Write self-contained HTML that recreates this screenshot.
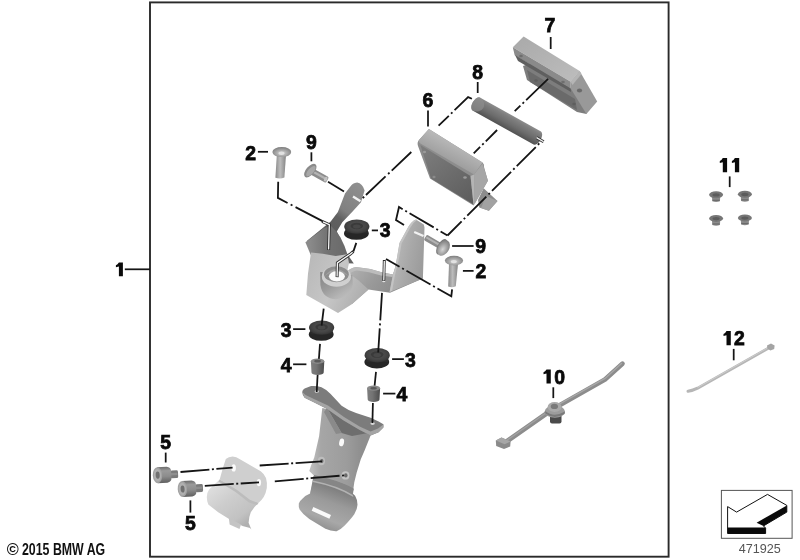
<!DOCTYPE html>
<html>
<head>
<meta charset="utf-8">
<title>Parts diagram 471925</title>
<style>
html,body{margin:0;padding:0;background:#fff;}
body{width:800px;height:560px;overflow:hidden;font-family:"Liberation Sans",sans-serif;}
svg{display:block;position:absolute;left:0;top:0;}
.lbl{font-family:"Liberation Sans",sans-serif;font-weight:bold;font-size:19.4px;fill:#0a0a0a;stroke:#0a0a0a;stroke-width:0.75;text-anchor:middle;}
.ld{stroke:#151515;stroke-width:1.75;fill:none;stroke-linecap:butt;}
.dd{stroke:#151515;stroke-width:1.8;fill:none;stroke-dasharray:27 3 2 3;}
</style>
</head>
<body>
<svg width="800" height="560" viewBox="0 0 800 560">
<defs>

<linearGradient id="g7top" x1="0" y1="0" x2="1" y2="1"><stop offset="0" stop-color="#a9a9a9"/><stop offset="1" stop-color="#bdbdbd"/></linearGradient>
<linearGradient id="g8" gradientUnits="userSpaceOnUse" x1="510.4" y1="114.4" x2="503.1" y2="127.6"><stop offset="0" stop-color="#8d8d8d"/><stop offset="0.2" stop-color="#7e7e7e"/><stop offset="0.6" stop-color="#6c6c6c"/><stop offset="1" stop-color="#525252"/></linearGradient>
<linearGradient id="g6f" gradientUnits="userSpaceOnUse" x1="425" y1="150" x2="470" y2="205"><stop offset="0" stop-color="#7c7c7c"/><stop offset="1" stop-color="#5c5c5c"/></linearGradient>
<linearGradient id="g6t" gradientUnits="userSpaceOnUse" x1="450" y1="140" x2="440" y2="160"><stop offset="0" stop-color="#b9b9b9"/><stop offset="1" stop-color="#9a9a9a"/></linearGradient>

<linearGradient id="gArmL" gradientUnits="userSpaceOnUse" x1="358" y1="186" x2="322" y2="236"><stop offset="0" stop-color="#8e8e8e"/><stop offset="0.45" stop-color="#808080"/><stop offset="0.6" stop-color="#606060"/><stop offset="1" stop-color="#5a5a5a"/></linearGradient>
<linearGradient id="gBack" gradientUnits="userSpaceOnUse" x1="310" y1="245" x2="346" y2="245"><stop offset="0" stop-color="#8a8a8a"/><stop offset="0.5" stop-color="#727272"/><stop offset="1" stop-color="#6a6a6a"/></linearGradient>
<linearGradient id="gFront" gradientUnits="userSpaceOnUse" x1="306" y1="270" x2="370" y2="300"><stop offset="0" stop-color="#bababa"/><stop offset="0.45" stop-color="#c6c6c6"/><stop offset="1" stop-color="#a8a8a8"/></linearGradient>
<radialGradient id="gDish" gradientUnits="userSpaceOnUse" cx="336.5" cy="276" r="17" fx="336.5" fy="270"><stop offset="0" stop-color="#8c8c8c"/><stop offset="0.45" stop-color="#a2a2a2"/><stop offset="0.8" stop-color="#cfcfcf"/><stop offset="1" stop-color="#c2c2c2"/></radialGradient>
<linearGradient id="gFloor" gradientUnits="userSpaceOnUse" x1="355" y1="266" x2="392" y2="292"><stop offset="0" stop-color="#b0b0b0"/><stop offset="0.5" stop-color="#9a9a9a"/><stop offset="1" stop-color="#8c8c8c"/></linearGradient>
<linearGradient id="gArmR" gradientUnits="userSpaceOnUse" x1="396" y1="250" x2="424" y2="256"><stop offset="0" stop-color="#b6b6b6"/><stop offset="0.5" stop-color="#a8a8a8"/><stop offset="1" stop-color="#9c9c9c"/></linearGradient>

<linearGradient id="gShV" x1="0" y1="0" x2="1" y2="0"><stop offset="0" stop-color="#8a8a8a"/><stop offset="0.45" stop-color="#bdbdbd"/><stop offset="1" stop-color="#858585"/></linearGradient>
<radialGradient id="gHead" cx="0.5" cy="0.6" r="0.6"><stop offset="0" stop-color="#d6d6d6"/><stop offset="0.5" stop-color="#a8a8a8"/><stop offset="1" stop-color="#7c7c7c"/></radialGradient>
<radialGradient id="gGromT" cx="0.5" cy="0.45" r="0.55"><stop offset="0" stop-color="#3c3c3c"/><stop offset="0.35" stop-color="#4e4e4e"/><stop offset="0.7" stop-color="#444"/><stop offset="1" stop-color="#353535"/></radialGradient>
<linearGradient id="gSp" x1="0" y1="0" x2="1" y2="0"><stop offset="0" stop-color="#7e7e7e"/><stop offset="0.4" stop-color="#747474"/><stop offset="1" stop-color="#4c4c4c"/></linearGradient>

<linearGradient id="gLB" gradientUnits="userSpaceOnUse" x1="312" y1="450" x2="362" y2="450"><stop offset="0" stop-color="#bcbcbc"/><stop offset="0.18" stop-color="#a6a6a6"/><stop offset="0.7" stop-color="#9c9c9c"/><stop offset="1" stop-color="#8e8e8e"/></linearGradient>
<linearGradient id="gLBc" gradientUnits="userSpaceOnUse" x1="335" y1="488" x2="320" y2="528"><stop offset="0" stop-color="#7e7e7e"/><stop offset="0.35" stop-color="#9a9a9a"/><stop offset="0.75" stop-color="#a8a8a8"/><stop offset="1" stop-color="#909090"/></linearGradient>

<linearGradient id="gS5" x1="0" y1="0" x2="0" y2="1"><stop offset="0" stop-color="#6c6c6c"/><stop offset="0.25" stop-color="#9a9a9a"/><stop offset="0.6" stop-color="#8c8c8c"/><stop offset="1" stop-color="#606060"/></linearGradient>
<linearGradient id="gClampC" gradientUnits="userSpaceOnUse" x1="215" y1="485" x2="245" y2="525"><stop offset="0" stop-color="#dedede"/><stop offset="0.4" stop-color="#cdcdcd"/><stop offset="0.8" stop-color="#c2c2c2"/><stop offset="1" stop-color="#b0b0b0"/></linearGradient>
<linearGradient id="gWall" gradientUnits="userSpaceOnUse" x1="326" y1="272" x2="344" y2="300"><stop offset="0" stop-color="#868686"/><stop offset="0.45" stop-color="#9c9c9c"/><stop offset="0.8" stop-color="#b4b4b4"/><stop offset="1" stop-color="#bebebe"/></linearGradient>
<filter id="soft" x="-5%" y="-5%" width="110%" height="110%" filterUnits="userSpaceOnUse" color-interpolation-filters="sRGB"><feGaussianBlur stdDeviation="0.55"/></filter>
<filter id="softT" x="0" y="0" width="800" height="560" filterUnits="userSpaceOnUse" color-interpolation-filters="sRGB"><feGaussianBlur stdDeviation="0.35"/></filter>
<!--DEFS-->
</defs>
<rect x="0" y="0" width="800" height="560" fill="#ffffff"/>
<!-- frame -->
<rect x="150" y="2.4" width="518.6" height="554.3" fill="none" stroke="#2a2a2a" stroke-width="1.9"/>


<g id="allparts" filter="url(#soft)">
<g id="p7">
<!-- lower body -->
<polygon points="523,66 531,63 590,100 586.5,114 577,112 527,80" fill="#7d7d7d"/>
<polygon points="527,70 575,99 577,110 530,82" fill="#6a6a6a"/>
<!-- top face -->
<polygon points="512.8,47.3 523.6,36.5 579.6,70.9 570.7,81.7" fill="url(#g7top)"/>
<!-- front face of top slab -->
<polygon points="512.8,47.3 570.7,81.7 570.7,88.6 514.7,55.2" fill="#8a8a8a"/>
<polygon points="515,55 570.7,88.6 571,92 518,61" fill="#5f5f5f"/>
<!-- end face -->
<polygon points="579.6,70.9 597.2,101.4 586.4,114 570.7,88.6 570.7,81.7" fill="#999999"/>
<polygon points="570.7,81.7 579.6,70.9 581.5,74 572.5,85" fill="#b5b5b5"/>
<ellipse cx="579.5" cy="90.5" rx="2.6" ry="2" fill="#6a6a6a"/>
<ellipse cx="521" cy="56" rx="1.8" ry="1.3" fill="#6e6e6e"/>
<ellipse cx="563" cy="82" rx="1.8" ry="1.3" fill="#6e6e6e"/>
<ellipse cx="574" cy="104" rx="1.8" ry="1.3" fill="#5e5e5e"/>
<ellipse cx="536" cy="80.5" rx="1.8" ry="1.3" fill="#5e5e5e"/>
</g>
<g id="p8">
<path d="M479.9 97.4 L541.0 131.4 A4.2 7.6 29.1 0 1 533.6 144.6 L472.5 110.6 A4.2 7.6 29.1 0 1 479.9 97.4Z" fill="url(#g8)"/>
<path d="M479.9 97.4 A4.2 7.6 29.1 0 0 472.5 110.6 A9 7.6 29.1 0 0 479.9 97.4Z" fill="#8e8e8e" opacity="0.7"/>
<path d="M536.6 137.6L543.6 141.8" stroke="#333" stroke-width="3" fill="none"/>
<path d="M536.6 137.6L543.6 141.8" stroke="#f4f4f4" stroke-width="1.3" fill="none"/>
</g>
<g id="p6">
<!-- tab -->
<polygon points="483.6,188.2 497.5,201 488.9,210.7 479.3,207.5 478,200" fill="#8c8c8c"/>
<polygon points="486,196 497.5,201 488.9,210.7 481,208" fill="#a2a2a2"/>
<!-- outer -->
<path d="M428.9 128.9 L482.5 162.5 Q484.5 164 484 167 L487.9 180.7 L473.5 205.4 L430 178.6 L418 146 Q416.8 142.5 419 140 Z" fill="#8d8d8d"/>
<!-- front face -->
<polygon points="420.4,145 470.5,176 473.5,204.5 431,178.5" fill="url(#g6f)"/>
<!-- top face -->
<path d="M428.9 128.9 L482.5 162.5 L474 174.5 L420.4 143.5 Q417.5 141.5 419.5 139.5Z" fill="url(#g6t)"/>
<!-- right side -->
<polygon points="474,174.5 482.5,163.5 487.9,180.7 474.4,204.5" fill="#a6a6a6"/>
<polygon points="470.5,176 474,174.5 474.4,204.5 473.5,204.5" fill="#b4b4b4"/>
<ellipse cx="424.5" cy="152" rx="1.6" ry="1.2" fill="#9a9a9a"/>
<ellipse cx="465" cy="177.5" rx="1.8" ry="1.3" fill="#9a9a9a"/>
<ellipse cx="434" cy="177" rx="1.6" ry="1.2" fill="#8a8a8a"/>
</g>

<g id="bracket">
<!-- left arm -->
<path d="M350 187.1 Q352.5 183 357.1 182.6 Q362.5 183.5 364.6 190.5 L361 202.3 L352.1 212.1 L342.3 222.3 L336.8 231.6 L341 240 L312 246 L307.1 240.7 L330.7 221.4 L337.9 212.1 L345 193.6 Z" fill="url(#gArmL)"/>
<!-- back plate -->
<path d="M305.4 242.3 L324.1 228 L331 226 Q337 231.5 340.5 237.5 Q345 246 347.3 253.9 L347 260 L312 258 Z" fill="url(#gBack)"/>
<!-- dark wedge -->
<polygon points="348.6,256 353.8,263.4 339.6,263 340.5,258.5" fill="#626262"/>
<!-- floor -->
<path d="M345.6 273.2 Q350 268 356 267 L370.3 268.9 L382.5 272.5 L393 274.4 L397 262 L423 262 L422.8 278.5 L390 292.8 L368.5 289.5 L352 304 L340 290 Z" fill="url(#gFloor)"/>
<path d="M345.6 273.2 Q350 268 356 267 L370.3 268.9 L382.5 272.5 L393 274.4 L392.6 277 L381 275.4 L369 272.2 L357 270.4 Q352 271 347.6 275.4Z" fill="#bcbcbc"/>
<!-- right arm -->
<path d="M389.6 292 L393 274.4 L395 268 L396.8 258.9 L399.5 242.9 L408.4 226.8 Q411.5 221 416 219.4 L423.8 224.6 L424.5 227.5 L422.9 278.5 Z" fill="url(#gArmR)"/>
<path d="M389.6 292 L393 274.4 L395 268 L396.8 258.9 L399.5 242.9 L408.4 226.8 Q411.5 221 416 219.4 L417 220 Q413 222.5 410.4 227.4 L401.6 243.4 L398.8 259.4 L395 275 L392 291Z" fill="#c4c4c4"/>
<!-- front face / left wall -->
<path d="M311 252.6 Q322 253.4 335.7 255.9 L347.3 254.2 L349 262.9 L347 272 L358 280 L368.5 289.5 L351.8 304.3 L338 313 L306.3 295 L308 273.6 Z" fill="url(#gFront)"/>
<!-- boss outer wall -->
<path d="M320.2 272 L320.4 285 Q322.4 298.9 336.4 299.2 Q350 297.4 352.8 284.5 L352.4 275 Z" fill="url(#gWall)"/>
<!-- ring -->
<ellipse cx="336.4" cy="276.4" rx="14.6" ry="10.4" fill="#d0d0d0"/>
<ellipse cx="336.4" cy="274.2" rx="12.4" ry="8" fill="#8e8e8e"/>
<path d="M324.6 276 Q336 262 348.4 276 Q336 268 324.6 276Z" fill="#a2a2a2"/>
<!-- hole -->
<ellipse cx="336.9" cy="276.3" rx="8" ry="5.1" fill="#fbfbfb"/>
<!-- hole small on floor -->
<ellipse cx="383.8" cy="281" rx="1.6" ry="1.2" fill="#e6e6e6"/>
<!-- slot notches -->
<path d="M353 196.6L360.5 201.2" stroke="#f2f2f2" stroke-width="2.4" fill="none"/>
<path d="M414.2 232L423.5 236" stroke="#f2f2f2" stroke-width="2.4" fill="none"/>
</g>

<g id="screws">
<!-- screw 2 left -->
<path d="M276.8 155 L286 155 L284.4 177.6 Q280 179.4 275.4 177.8Z" fill="url(#gShV)"/>
<ellipse cx="281.8" cy="152.1" rx="9.4" ry="5" fill="url(#gHead)"/>
<ellipse cx="281.5" cy="153.2" rx="3" ry="1.7" fill="#e2e2e2"/>
<!-- screw 2 right -->
<path d="M449 264 L458 264 L455.8 286.3 Q452 288 448.2 286.5Z" fill="url(#gShV)"/>
<ellipse cx="454" cy="260.6" rx="9.1" ry="4.9" fill="url(#gHead)"/>
<ellipse cx="453.8" cy="261.6" rx="3" ry="1.7" fill="#e2e2e2"/>
<!-- screw 9 left -->
<g transform="translate(310.3,170.6) rotate(29)">
<rect x="0" y="-3.3" width="19.6" height="6.6" rx="1.6" fill="#8c8c8c"/>
<rect x="2" y="-1.4" width="16.5" height="2.2" fill="#b4b4b4"/>
<ellipse cx="17.6" cy="0" rx="1.6" ry="2.6" fill="#c4c4c4"/>
<ellipse cx="0" cy="0" rx="4.2" ry="8.2" transform="rotate(12)" fill="#8a8a8a"/>
<ellipse cx="0.8" cy="0" rx="2.8" ry="6.4" transform="rotate(12)" fill="#a8a8a8"/>
</g>
<!-- screw 9 right -->
<g transform="translate(443,247.6) rotate(30)">
<rect x="-20.5" y="-3.1" width="19" height="6.2" rx="1.4" fill="#8c8c8c"/>
<rect x="-19.5" y="-1.6" width="16" height="2.2" fill="#b2b2b2"/>
<ellipse cx="-1.6" cy="0" rx="4" ry="8.6" fill="#7c7c7c"/>
<ellipse cx="0.6" cy="0" rx="5.6" ry="8.4" fill="url(#gHead)"/>
</g>
</g>
<g id="grommets">
<g>
<ellipse cx="356.40000000000003" cy="233.4" rx="12.4" ry="6.4" fill="#262626"/>
<rect x="345.7" y="226.6" width="22.2" height="6.8" fill="#2c2c2c"/>
<ellipse cx="356.8" cy="226.6" rx="12.6" ry="7.2" fill="url(#gGromT)"/>
<ellipse cx="356.8" cy="226.0" rx="6.3" ry="3.24" fill="#3a3a3a"/>
<ellipse cx="356.8" cy="226.4" rx="3.78" ry="2.0160000000000005" fill="#484848"/>
</g><g>
<ellipse cx="321.20000000000005" cy="334.40000000000003" rx="12.4" ry="6.4" fill="#262626"/>
<rect x="310.5" y="327.6" width="22.2" height="6.8" fill="#2c2c2c"/>
<ellipse cx="321.6" cy="327.6" rx="12.6" ry="7.2" fill="url(#gGromT)"/>
<ellipse cx="321.6" cy="327.0" rx="6.3" ry="3.24" fill="#3a3a3a"/>
<ellipse cx="321.6" cy="327.40000000000003" rx="3.78" ry="2.0160000000000005" fill="#484848"/>
</g><g>
<ellipse cx="376.8" cy="362.0" rx="12.4" ry="6.4" fill="#262626"/>
<rect x="366.09999999999997" y="355.2" width="22.2" height="6.8" fill="#2c2c2c"/>
<ellipse cx="377.2" cy="355.2" rx="12.6" ry="7.2" fill="url(#gGromT)"/>
<ellipse cx="377.2" cy="354.59999999999997" rx="6.3" ry="3.24" fill="#3a3a3a"/>
<ellipse cx="377.2" cy="355.0" rx="3.78" ry="2.0160000000000005" fill="#484848"/>
</g>
</g>
<g id="spacers">
<g>
<path d="M310.90000000000003 361.2 L311.50000000000006 372.4 A6.1000000000000005 2.68 0 0 0 323.7 372.4 L324.3 361.2Z" fill="url(#gSp)"/>
<ellipse cx="317.6" cy="361.2" rx="6.7" ry="2.68" fill="#8a8a8a"/>
<ellipse cx="317.6" cy="361.2" rx="3.35" ry="1.34" fill="#5a5a5a"/>
</g><g>
<path d="M367.1 388.2 L367.70000000000005 399.4 A5.9 2.6 0 0 0 379.5 399.4 L380.1 388.2Z" fill="url(#gSp)"/>
<ellipse cx="373.6" cy="388.2" rx="6.5" ry="2.6" fill="#8a8a8a"/>
<ellipse cx="373.6" cy="388.2" rx="3.25" ry="1.3" fill="#5a5a5a"/>
</g>
</g>

<g id="lowerbracket">
<!-- body -->
<path d="M322.3 408 L319.1 436.3 L314.3 457.2 L310.9 466.1 L309.3 470.9 L314.1 475.7 L313.3 480.5 L310.1 493.4 L330 505 L352.7 493.4 L354.3 482.2 L356.7 472.5 L360.7 459.6 L364.8 450 L370.6 435.5 L372 428 L340 412 Z" fill="url(#gLB)"/>
<!-- recess under bar -->
<polygon points="327,408 368,433 352,436 341.6,433" fill="#6e6e6e"/>
<polygon points="327,408 341.6,433 336,434 324,412" fill="#8a8a8a"/>
<!-- top bar -->
<path d="M302.2 392.1 Q302.4 389.5 304.6 388.4 L311.1 386.1 Q316.5 385.6 321.5 387.2 Q326.5 389.5 330.4 393.7 L341.6 405.7 Q348 410.3 356.1 413 L370.6 417.8 L378.6 421.5 L383.4 424.2 L383.4 427.6 L378.6 432.3 L370.6 435.5 L359.3 429.8 L343.2 420.2 L327.2 408.9 L314.3 402.5 L304.6 397.7 Q302.4 395.5 302.2 392.1Z" fill="#7c7c7c"/>
<path d="M302.2 392.1 L304.6 397.7 L314.3 402.5 L327.2 408.9 L343.2 420.2 L359.3 429.8 L370.6 435.5 L378.6 432.3 L383.4 427.6 L383.4 424.6 L378 428.6 L370.6 431.6 L359.6 426.4 L344 417 L328 405.6 L315 399.4 L305.6 395 Z" fill="#a4a4a4"/>
<ellipse cx="316.8" cy="391.6" rx="2.2" ry="1.4" fill="#d8d8d8"/>
<ellipse cx="372.6" cy="423.6" rx="2.2" ry="1.4" fill="#d8d8d8"/>
<!-- hole -->
<ellipse cx="341.6" cy="442.4" rx="2.4" ry="3.9" transform="rotate(12 341.6 442.4)" fill="#fafafa"/>
<!-- clamp -->
<path d="M310.1 493.4 Q305 495.5 302.9 498.2 Q299.4 501 298.8 503.6 Q298.4 507 299.6 509.5 Q303 514.5 309.3 519.1 L325.4 528.8 Q331 531.4 336.6 531.2 Q341 529.5 344.7 525.6 Q351 519 354.3 514.3 Q357.4 509 357.5 504.7 Q357.4 499.5 355.1 495.8 L352.7 493.4 L353.5 489 Q340 481 313.5 476 Z" fill="url(#gLBc)"/>
<path d="M313.2 480.5 Q338 485.5 352.9 495 L353.6 488.6 Q340 480.6 314 475Z" fill="#868686"/>
<path d="M312.6 482 Q337 486.8 353.4 497 L352.9 495 Q338 485.5 313.2 480.5Z" fill="#b2b2b2"/>
<!-- slot -->
<polygon points="313.3,507.1 331,515.1 329.4,518.8 311.7,510.8" fill="#fafafa"/>
<!-- nuts -->
<ellipse cx="321.4" cy="461" rx="3.6" ry="4.2" fill="#bdbdbd"/>
<ellipse cx="321.8" cy="461" rx="1.7" ry="2.1" fill="#6a6a6a"/>
<ellipse cx="345.5" cy="475.4" rx="3.9" ry="4.2" fill="#c4c4c4"/>
<ellipse cx="345.8" cy="475.4" rx="1.8" ry="2.1" fill="#6a6a6a"/>
</g>

<g id="clamp">
<!-- curved part -->
<path d="M219.7 479.6 L209.1 489.5 Q206.6 493 206.8 497 Q206.8 501 208.3 504.6 L218.2 512.2 L230.3 519.8 L242.5 525.9 L250 528.1 L251.4 529.6 L248.6 522.8 Q248.8 517 250.8 512.2 Q254 507 258.4 503.1 L250 498 L236.4 487 Z" fill="url(#gClampC)"/>
<!-- tab -->
<polygon points="228.8,518 229.6,524.4 239.5,528.9 241,524.6" fill="#c4c4c4"/>
<!-- flat plate -->
<path d="M225.8 459.1 Q228.5 456.6 232.6 456.6 Q236.5 457 239.5 459.1 L260.7 471.2 Q264.5 474 266 478.1 Q267.4 483 266.8 487.9 Q266 493 263.7 497 Q261.5 500.5 258.4 503.1 Q254 502 250 500 L236.4 489.5 L219.7 479.6 L222.8 468.2 Z" fill="#cfcfcf"/>
<path d="M219.7 479.6 L236.4 489.5 L250 500 L258.4 503.1 L257 505 L249 502.4 L235.6 492 L218.4 481.4Z" fill="#bcbcbc"/>
<ellipse cx="233.7" cy="467.9" rx="2.2" ry="3.6" fill="#fbfbfb"/>
<ellipse cx="258.9" cy="482.6" rx="2.2" ry="3.6" fill="#fbfbfb"/>
</g>
<g id="screws5">
<g transform="translate(157.5,475.2) rotate(-3)">
<rect x="13" y="-3.9" width="7.6" height="7.8" rx="1.5" fill="#7a7a7a"/>
<rect x="13" y="-1.5" width="7" height="2.4" fill="#8e8e8e"/>
<path d="M0 -8 L9.5 -8 Q13.8 -7.4 13.8 -3.6 L13.8 3.6 Q13.8 7.4 9.5 8 L0 8Z" fill="url(#gS5)"/>
<ellipse cx="0" cy="0" rx="4.7" ry="8" fill="#a2a2a2"/>
<ellipse cx="0" cy="0" rx="3.6" ry="6.3" fill="#b0b0b0"/>
<ellipse cx="0.2" cy="0" rx="2" ry="3.6" fill="#707070"/>
</g><g transform="translate(182.4,489) rotate(-3)">
<rect x="13" y="-3.9" width="7.6" height="7.8" rx="1.5" fill="#7a7a7a"/>
<rect x="13" y="-1.5" width="7" height="2.4" fill="#8e8e8e"/>
<path d="M0 -8 L9.5 -8 Q13.8 -7.4 13.8 -3.6 L13.8 3.6 Q13.8 7.4 9.5 8 L0 8Z" fill="url(#gS5)"/>
<ellipse cx="0" cy="0" rx="4.7" ry="8" fill="#a2a2a2"/>
<ellipse cx="0" cy="0" rx="3.6" ry="6.3" fill="#b0b0b0"/>
<ellipse cx="0.2" cy="0" rx="2" ry="3.6" fill="#707070"/>
</g>
</g>

<g id="clips11">
<g>
<path d="M711.9 195.7 L712.3000000000001 201.29999999999998 Q716.1 202.89999999999998 719.9 201.29999999999998 L720.3000000000001 195.7Z" fill="#8c8c8c"/>
<rect x="712.5" y="199.7" width="7.2" height="1.2" fill="#6a6a6a"/>
<ellipse cx="716.1" cy="194.7" rx="7" ry="3.5" fill="#767676"/>
<ellipse cx="716.1" cy="194.89999999999998" rx="3.6" ry="1.7" fill="#5c5c5c"/>
</g><g>
<path d="M740.6999999999999 195.3 L741.1 200.9 Q744.9 202.5 748.6999999999999 200.9 L749.1 195.3Z" fill="#8c8c8c"/>
<rect x="741.3" y="199.3" width="7.2" height="1.2" fill="#6a6a6a"/>
<ellipse cx="744.9" cy="194.3" rx="7" ry="3.5" fill="#767676"/>
<ellipse cx="744.9" cy="194.5" rx="3.6" ry="1.7" fill="#5c5c5c"/>
</g><g>
<path d="M711.9 219.4 L712.3000000000001 225.0 Q716.1 226.6 719.9 225.0 L720.3000000000001 219.4Z" fill="#8c8c8c"/>
<rect x="712.5" y="223.4" width="7.2" height="1.2" fill="#6a6a6a"/>
<ellipse cx="716.1" cy="218.4" rx="7" ry="3.5" fill="#767676"/>
<ellipse cx="716.1" cy="218.6" rx="3.6" ry="1.7" fill="#5c5c5c"/>
</g><g>
<path d="M740.6999999999999 218.9 L741.1 224.5 Q744.9 226.1 748.6999999999999 224.5 L749.1 218.9Z" fill="#8c8c8c"/>
<rect x="741.3" y="222.9" width="7.2" height="1.2" fill="#6a6a6a"/>
<ellipse cx="744.9" cy="217.9" rx="7" ry="3.5" fill="#767676"/>
<ellipse cx="744.9" cy="218.1" rx="3.6" ry="1.7" fill="#5c5c5c"/>
</g>
</g>
<g id="tie10">
<path d="M503 444 L553 409 L605 379.5 L622.4 363.7" stroke="#8c8c8c" stroke-width="4.8" fill="none" stroke-linejoin="round" stroke-linecap="round"/>
<path d="M503 443 L553 408" stroke="#a2a2a2" stroke-width="1.4" fill="none"/>
<path d="M556 406 L605 378.4 L622 363" stroke="#a8a8a8" stroke-width="1.3" fill="none"/>
<polygon points="495.8,440.6 501.5,437.6 510.6,441.6 510.2,446.4 504,449 496.2,446" fill="#8a8a8a"/>
<polygon points="495.8,440.6 501.5,437.6 510.6,441.6 504.6,444.2" fill="#a6a6a6"/>
<rect x="550" y="414" width="11.5" height="9.5" rx="2" fill="#4a4a4a"/>
<ellipse cx="554.8" cy="411.6" rx="10.2" ry="6.2" fill="#9c9c9c"/>
<ellipse cx="554.6" cy="407" rx="7" ry="5" fill="#aaaaaa"/>
<ellipse cx="554.4" cy="406.4" rx="3.6" ry="2.6" fill="#7a7a7a"/>
<path d="M545 411 Q554 418 565 411.6 L564.6 414 Q554 420 545.4 413.6Z" fill="#7a7a7a"/>
</g>
<g id="tie12">
<path d="M688 391.2 Q693 390.6 697.6 388.2 L770 347.2" stroke="#b6b6b6" stroke-width="3" fill="none" stroke-linecap="round"/>
<path d="M697.6 387.6 L770 346.6" stroke="#cfcfcf" stroke-width="0.9" fill="none"/>
<polygon points="767,345.4 771,343.4 774.6,345.6 774.2,349 770.4,350.6 767.4,348.6" fill="#a4a4a4"/>
</g>
</g><!--/allparts-->
<!--PARTS-->


<g id="allink" filter="url(#softT)">
<g id="wlines">
<path d="M322.1 221.4 L329.3 224.6 L328.6 250" stroke="#2a2a2a" stroke-width="3" fill="none"/>
<path d="M323 221.8 L329.3 224.6 L328.6 249.4" stroke="#fafafa" stroke-width="1.3" fill="none"/>
<path d="M353.4 251.4 L350 254.3 L337.4 262.9 L337.1 277.1" stroke="#2a2a2a" stroke-width="3" fill="none"/>
<path d="M352.6 252.2 L350 254.3 L337.4 262.9 L337.1 276.5" stroke="#fafafa" stroke-width="1.3" fill="none"/>
<path d="M384.3 260 L383.8 281" stroke="#2a2a2a" stroke-width="2.9" fill="none"/>
<path d="M384.3 261 L383.8 280.4" stroke="#fafafa" stroke-width="1.25" fill="none"/>
</g>
<g id="ddlines">
<path class="dd" d="M548.1 78.8L514.7 111.2" style="stroke-dasharray:30.6 3 2 3 20"/>
<path class="dd" d="M497.1 130L473.7 153.4" style="stroke-dasharray:16 3 2 3 20"/>
<path class="dd" d="M471.9 98.8L468.1 97.1L438.6 125.7" style="stroke-dasharray:23 3 2 3 20"/>
<path class="dd" d="M411.3 152L362.5 198.3" style="stroke-dasharray:27 3 2 3.5 27 2.5 2 3"/>
<path class="dd" d="M447.5 235.5L541.4 141.4" style="stroke-dasharray:20 3 2 3 27 3 2 3 27 3 2 3 27 3 2 3"/>
<path class="dd" d="M447.5 235.5L399 207L396 220L404 225" style="stroke-dasharray:8 3 2 3 28 3 2 3 40"/>
<path class="ld" d="M328 181.8L344 191.6"/>
<path class="dd" d="M278.2 181.8L277.9 197.9L322.5 221.1" style="stroke-dasharray:27 3.5 2 3.5 40"/>
<path class="dd" d="M356.3 242.9L353.4 251.4"/>
<path class="dd" d="M386 259L451.3 296.4L452.1 289.3" style="stroke-dasharray:15.6 3 2 3 27.7 3 2 3 40"/>
<path class="dd" d="M323.7 308.6L321.6 325.7"/>
<path class="ld" d="M320 343.9L318.9 358.9"/>
<path class="ld" d="M317.6 375L316.7 392.1"/>
<path class="dd" d="M382 292.9L378.2 352.5" style="stroke-dasharray:27.5 3 2 3 40"/>
<path class="ld" d="M376 371.8L374.6 385.7"/>
<path class="ld" d="M372.9 402.9L372.4 423"/>
<path class="dd" d="M180.5 472L232.6 467.6" style="stroke-dasharray:29 2.5 2 2.5"/>
<path class="dd" d="M259.7 465.5L322 461.3" style="stroke-dasharray:29 2.5 2 2.5"/>
<path class="dd" d="M204.8 485.8L259 482.3" style="stroke-dasharray:29 2.5 2 2.5"/>
<path class="dd" d="M274.8 481.3L344.8 475.3" style="stroke-dasharray:29 2.5 2 2.5"/>
</g>



<g id="labels">
<polygon points="118.90,262.40 122.90,262.40 122.90,276.30 118.90,276.30 118.90,266.60 115.90,267.30 115.90,265.30 117.50,264.30" fill="#0a0a0a"/>
<text class="lbl" x="250.7" y="159.5">2</text>
<text class="lbl" x="480.9" y="278.0">2</text>
<text class="lbl" x="385.2" y="237.0">3</text>
<text class="lbl" x="286.1" y="336.6">3</text>
<text class="lbl" x="410.4" y="366.6">3</text>
<text class="lbl" x="286.1" y="372.0">4</text>
<text class="lbl" x="401.8" y="400.9">4</text>
<text class="lbl" x="165.7" y="448.7">5</text>
<text class="lbl" x="190.4" y="529.5">5</text>
<text class="lbl" x="428.0" y="106.6">6</text>
<text class="lbl" x="550.0" y="32.3">7</text>
<text class="lbl" x="477.7" y="78.9">8</text>
<text class="lbl" x="311.4" y="148.7">9</text>
<text class="lbl" x="480.7" y="253.4">9</text>
<polygon points="546.50,369.40 550.80,369.40 550.80,383.60 546.50,383.60 546.50,373.60 543.50,374.30 543.50,372.30 545.10,371.30" fill="#0a0a0a"/><text class="lbl" x="559.6" y="383.5">0</text>
<polygon points="722.80,158.00 727.10,158.00 727.10,172.20 722.80,172.20 722.80,162.20 719.80,162.90 719.80,160.90 721.40,159.90" fill="#0a0a0a"/><polygon points="734.90,158.00 739.20,158.00 739.20,172.20 734.90,172.20 734.90,162.20 731.90,162.90 731.90,160.90 733.50,159.90" fill="#0a0a0a"/>
<polygon points="726.50,331.10 730.80,331.10 730.80,345.30 726.50,345.30 726.50,335.30 723.50,336.00 723.50,334.00 725.10,333.00" fill="#0a0a0a"/><text class="lbl" x="739.5" y="345.1">2</text>
</g>
<g id="leaders">
<path class="ld" d="M124.8 269.3H150"/>
<path class="ld" d="M257.9 151.8H268"/>
<path class="ld" d="M462.9 270.9H473.6"/>
<path class="ld" d="M371.8 230.4H378"/>
<path class="ld" d="M293.1 329.1H305.4"/>
<path class="ld" d="M392.1 359.1H403.9"/>
<path class="ld" d="M293.1 364.3H306.4"/>
<path class="ld" d="M383.1 393.6H395.4"/>
<path class="ld" d="M165.7 452.6V462.5"/>
<path class="ld" d="M190.4 500.4V512.6"/>
<path class="ld" d="M428 110.6V126.6"/>
<path class="ld" d="M550.7 37V49"/>
<path class="ld" d="M477.7 82V93"/>
<path class="ld" d="M311.4 152.3V161.3"/>
<path class="ld" d="M452.1 246H473.6"/>
<path class="ld" d="M553.3 387.3V398.1"/>
<path class="ld" d="M729.7 176.4V187.1"/>
<path class="ld" d="M733.7 348.9V360.3"/>
</g>


<!-- icon -->
<g id="icon">
<rect x="721.4" y="490.4" width="70.7" height="47.9" fill="#fff" stroke="#555" stroke-width="1"/>
<polygon points="727.6,506.6 736.6,512.1 767.5,494.4 786.8,505.4 786.8,512.1 763.5,525.9 765.6,528.2 765.6,533.5 727.6,533.5" fill="#fff" stroke="#111" stroke-width="1" stroke-linejoin="miter"/>
<polygon points="727.6,527.5 765.6,527.5 765.6,533.5 727.6,533.5" fill="#0a0a0a"/>
<polygon points="786.8,505.4 786.8,512.1 763.5,525.9 756.6,522.7" fill="#0a0a0a"/>
<text x="759.8" y="553.3" font-size="12.6" fill="#555" text-anchor="middle" font-family="Liberation Sans, sans-serif">471925</text>
</g>
<!-- copyright -->
<text x="6.8" y="555.2" font-size="16" font-weight="bold" fill="#111" textLength="12" lengthAdjust="spacingAndGlyphs" font-family="Liberation Sans, sans-serif">©</text>
<text x="22" y="555.2" font-size="16" font-weight="bold" fill="#111" textLength="83.2" lengthAdjust="spacingAndGlyphs" font-family="Liberation Sans, sans-serif">2015 BMW AG</text>
</g><!--/allink-->
</svg>
</body>
</html>
